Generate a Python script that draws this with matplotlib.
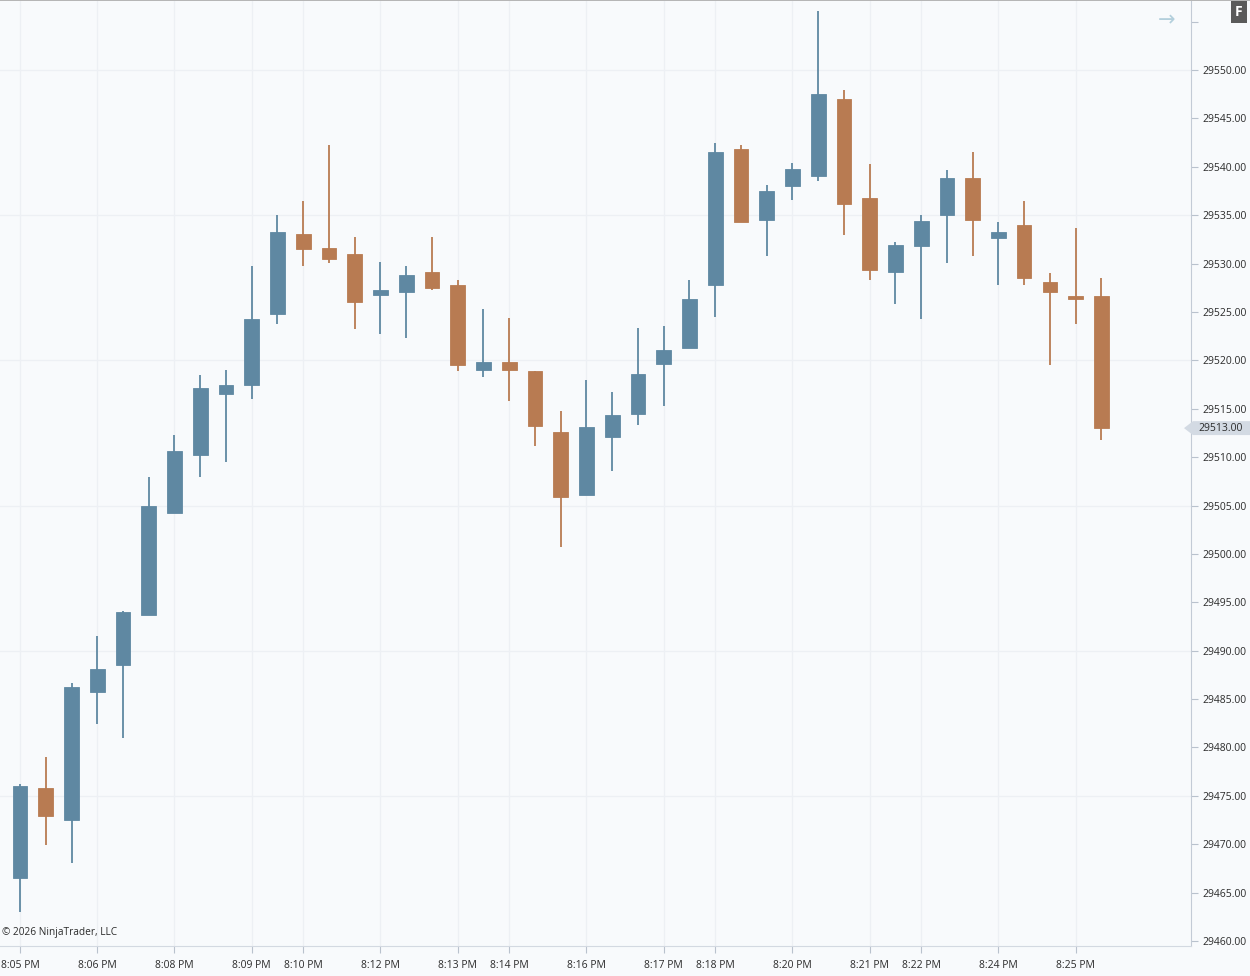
"""NinjaTrader style 1-minute candlestick chart, 8:05 PM - 8:25 PM."""

import numpy as np
import matplotlib.pyplot as plt
from matplotlib.patches import Polygon
from matplotlib.lines import Line2D
import matplotlib.transforms as mtransforms

plt.rcParams["font.family"] = ["Open Sans", "DejaVu Sans"]

# candle values (bar index = position in list)
opens = [29466.5, 29475.8, 29472.5, 29485.7, 29488.5, 29493.7, 29504.2, 29510.2,
         29516.5, 29517.5, 29524.8, 29533.1, 29531.6, 29531.0, 29526.8, 29527.1,
         29529.1, 29527.8, 29519.0, 29519.8, 29518.9, 29512.6, 29506.1, 29512.1,
         29514.5, 29519.6, 29521.3, 29527.8, 29541.8, 29534.5, 29538.0, 29539.0,
         29547.0, 29536.8, 29529.1, 29531.8, 29535.0, 29538.8, 29532.6, 29534.0,
         29528.1, 29526.6, 29526.6]
highs = [29476.2, 29479.0, 29486.7, 29491.5, 29494.1, 29507.9, 29512.3, 29518.5,
         29519.0, 29529.7, 29535.0, 29536.5, 29542.2, 29532.7, 29530.2, 29529.7,
         29532.7, 29528.3, 29525.3, 29524.4, 29518.9, 29514.8, 29518.0, 29516.7,
         29523.3, 29523.5, 29528.3, 29542.5, 29542.2, 29538.1, 29540.4, 29556.1,
         29547.9, 29540.3, 29532.2, 29535.0, 29539.7, 29541.5, 29534.3, 29536.5,
         29529.0, 29533.7, 29528.5]
lows = [29463.0, 29469.9, 29468.1, 29482.4, 29481.0, 29493.7, 29504.2, 29508.0,
        29509.5, 29516.0, 29523.8, 29529.8, 29530.1, 29523.2, 29522.7, 29522.3,
        29527.3, 29518.9, 29518.3, 29515.8, 29511.1, 29500.7, 29506.1, 29508.6,
        29513.3, 29515.3, 29521.3, 29524.5, 29534.3, 29530.8, 29536.6, 29538.5,
        29533.0, 29528.3, 29525.8, 29524.3, 29530.1, 29530.8, 29527.8, 29527.8,
        29519.5, 29523.8, 29511.8]
closes = [29476.0, 29472.9, 29486.3, 29488.1, 29494.0, 29505.0, 29510.6, 29517.1,
          29517.5, 29524.3, 29533.3, 29531.5, 29530.5, 29526.0, 29527.3, 29528.8,
          29527.5, 29519.5, 29519.8, 29519.0, 29513.2, 29505.9, 29513.1, 29514.4,
          29518.6, 29521.1, 29526.3, 29541.5, 29534.3, 29537.5, 29539.8, 29547.5,
          29536.2, 29529.3, 29531.9, 29534.4, 29538.8, 29534.5, 29533.3, 29528.5,
          29527.1, 29526.3, 29513.0]

time_tick_bars = [0, 3, 6, 9, 11, 14, 17, 19, 22, 25, 27, 30, 33, 35, 38, 41]
time_tick_labels = ["8:05 PM", "8:06 PM", "8:08 PM", "8:09 PM", "8:10 PM", "8:12 PM",
                    "8:13 PM", "8:14 PM", "8:16 PM", "8:17 PM", "8:18 PM", "8:20 PM",
                    "8:21 PM", "8:22 PM", "8:24 PM", "8:25 PM"]
price_ticks = list(range(29460, 29560, 5))
grid_levels = [29475, 29490, 29505, 29520, 29535, 29550]

UP = "#5f88a2"
DOWN = "#b87b52"
BG = "#f8fafc"
TEXT = "#2b2b2b"

o = np.array(opens)
h = np.array(highs)
l = np.array(lows)
c = np.array(closes)
x = np.arange(len(o))
colors = np.where(c >= o, UP, DOWN)

fig = plt.figure(figsize=(12.5, 9.76), dpi=100, facecolor=BG)
ax = fig.add_axes([0, 30 / 976, 1191 / 1250, 945 / 976], facecolor=BG)

# grid
for lvl in grid_levels:
    ax.axhline(lvl, color="#edf0f4", lw=0.9, zorder=0)
for b in time_tick_bars:
    ax.axvline(b, color="#edf0f4", lw=0.9, zorder=0)

# candles
ax.vlines(x, l, h, colors=colors, lw=1.3, zorder=2)
ax.bar(x, np.abs(c - o), bottom=np.minimum(o, c), width=0.57,
       color=colors, edgecolor=colors, lw=0.6, zorder=3)

ax.set_xlim(-0.777, 45.48)
ax.set_ylim(29459.49, 29557.13)

# axes / ticks
ax.yaxis.tick_right()
ax.set_yticks(price_ticks)
ax.set_yticklabels([f"{p:.2f}" if p < 29555 else "" for p in price_ticks])
ax.set_xticks(time_tick_bars)
ax.set_xticklabels(time_tick_labels)
ax.tick_params(axis="both", colors="#b9c2cd", labelcolor=TEXT, labelsize=7.5,
               length=5, width=0.8)
ax.tick_params(axis="x", pad=5)
ax.tick_params(axis="y", pad=3)
for side in ["top", "left"]:
    ax.spines[side].set_visible(False)
ax.spines["bottom"].set_color("#d3d9e1")
ax.spines["right"].set_color("#c3cbd6")

# current price marker
blend = mtransforms.blended_transform_factory(ax.transAxes, ax.transData)
last = closes[-1]
half = 0.72
marker = Polygon([[0.9941, last], [1.0017, last + half], [1.06, last + half],
                  [1.06, last - half], [1.0017, last - half]],
                 closed=True, transform=blend, facecolor="#d3dae3",
                 edgecolor="none", clip_on=False, zorder=5)
ax.add_patch(marker)
ax.text(1.0065, last, f"{last:.2f}", transform=blend, va="center", ha="left",
        fontsize=7.5, color=TEXT, zorder=6, clip_on=False)

# chrome
fig.add_artist(Line2D([0, 1], [0.9995, 0.9995], color="#a9a9a9", lw=1.2))
fig.text(1167 / 1250, 1 - 21 / 976, "\u2192", color="#b3cfdc", fontsize=15,
         ha="center", va="center")
fig.text(1239 / 1250, 1 - 12 / 976, "F", color="white", fontsize=10,
         fontweight="bold", ha="center", va="center",
         bbox=dict(boxstyle="square,pad=0.32", facecolor="#5a5a5a",
                   edgecolor="none"))
fig.text(2 / 1250, 1 - 932 / 976, "\u00a9 2026 NinjaTrader, LLC", color=TEXT,
         fontsize=7.3, ha="left", va="center")

plt.savefig("out.png", dpi=100, facecolor=BG)
print("Saved out.png")
